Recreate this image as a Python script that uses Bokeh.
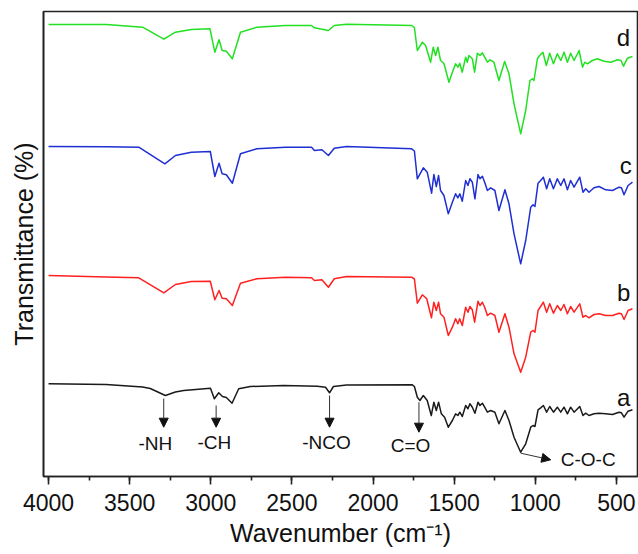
from bokeh.plotting import figure
from bokeh.models import Range1d, SingleIntervalTicker, FixedTicker, Arrow, NormalHead
from bokeh.core.properties import value
from bokeh.embed import file_html
from bokeh.resources import INLINE

# ---------------- data (wavenumber in cm-1, transmittance in arbitrary offset units) ----------------
wn_a = [4000, 3645, 3420, 3373, 3280, 3218, 3167, 3002, 2978, 2951, 2928, 2904, 2869, 2828, 2756, 2550,
        2344, 2293, 2268, 2244, 2163, 1758, 1745, 1727, 1711, 1690, 1666, 1641, 1625, 1610, 1596, 1579,
        1559, 1536, 1511, 1491, 1477, 1465, 1450, 1429, 1415, 1403, 1388, 1372, 1353, 1341, 1326, 1312,
        1295, 1275, 1249, 1224, 1187, 1162, 1131, 1090, 1059, 1028, 1014, 1002, 983, 967, 950, 930,
        911, 888, 864, 843, 823, 802, 782, 761, 726, 706, 689, 669, 638, 607, 566, 524, 484, 469,
        453, 428, 401]
t_a = [92.7, 92.0, 89.5, 88.0, 81.0, 84.5, 86.0, 88.3, 77.7, 83.7, 80.0, 79.0, 73.3, 87.7, 90.0, 91.0,
       90.3, 89.3, 83.7, 90.0, 91.5, 91.7, 90.0, 79.3, 76.0, 81.0, 76.0, 61.0, 74.3, 66.0, 74.3, 62.7,
       59.3, 49.3, 56.0, 62.7, 61.0, 64.3, 60.0, 71.0, 67.7, 72.7, 69.3, 63.3, 74.3, 71.0, 73.3, 69.3,
       64.3, 66.0, 64.3, 52.7, 66.0, 56.0, 39.3, 24.3, 32.7, 49.3, 51.0, 50.0, 66.7, 68.7, 71.0, 64.3,
       70.0, 64.3, 69.3, 64.3, 69.3, 62.7, 69.3, 64.3, 70.0, 61.0, 63.3, 61.0, 62.7, 63.3, 62.7, 62.0,
       64.3, 63.7, 59.3, 65.3, 66.7]

wn_b = [4000, 3645, 3444, 3289, 3218, 3120, 3003, 2975, 2949, 2930, 2904, 2867, 2817, 2716, 2540, 2379,
        2361, 2315, 2275, 2239, 2163, 1762, 1745, 1727, 1696, 1669, 1640, 1625, 1610, 1596, 1584, 1563,
        1536, 1511, 1491, 1477, 1466, 1450, 1429, 1415, 1403, 1388, 1374, 1353, 1341, 1326, 1312, 1295,
        1275, 1249, 1224, 1187, 1162, 1131, 1090, 1059, 1028, 1014, 1002, 983, 967, 950, 930, 911,
        888, 864, 843, 823, 802, 782, 761, 726, 706, 689, 669, 638, 607, 566, 524, 484, 469, 453,
        428, 401]
t_b = [201.0, 199.5, 198.7, 183.7, 192.0, 195.0, 195.3, 176.7, 186.0, 178.3, 177.7, 171.0, 193.3, 197.7,
       199.3, 198.7, 196.0, 196.7, 189.3, 197.7, 200.0, 199.3, 197.5, 173.3, 181.7, 177.7, 158.7, 174.3,
       166.0, 174.3, 162.7, 159.3, 141.0, 149.3, 157.7, 152.7, 157.7, 151.0, 169.3, 164.3, 170.0, 166.7,
       154.3, 175.3, 171.0, 174.3, 169.3, 161.0, 163.3, 161.0, 144.3, 162.7, 149.3, 122.7, 104.3, 119.3,
       144.3, 146.0, 144.3, 166.0, 170.0, 174.3, 164.3, 172.7, 163.3, 171.0, 166.0, 172.0, 162.7, 170.0,
       164.3, 172.7, 159.3, 161.0, 158.7, 162.0, 162.7, 161.0, 161.0, 163.3, 162.7, 157.0, 166.0, 167.7]

wn_c = [4000, 3645, 3444, 3283, 3218, 3120, 3003, 2975, 2949, 2930, 2904, 2867, 2817, 2716, 2540, 2379,
        2361, 2315, 2275, 2239, 2163, 1762, 1745, 1727, 1690, 1666, 1639, 1625, 1610, 1596, 1584, 1563,
        1536, 1511, 1491, 1477, 1465, 1450, 1429, 1415, 1403, 1388, 1372, 1353, 1341, 1326, 1312, 1295,
        1275, 1249, 1224, 1187, 1162, 1131, 1090, 1059, 1028, 1014, 1002, 983, 967, 950, 930, 911,
        888, 864, 843, 823, 802, 782, 761, 726, 706, 689, 669, 638, 607, 566, 524, 484, 469, 453,
        428, 401]
t_c = [330.0, 329.7, 329.3, 312.7, 321.0, 324.3, 325.0, 300.0, 313.3, 302.7, 301.7, 293.3, 322.7, 327.7,
       329.3, 329.3, 326.0, 326.7, 321.0, 328.3, 330.0, 327.7, 325.5, 297.7, 308.7, 304.3, 283.3, 302.0,
       290.0, 301.0, 286.0, 281.0, 262.7, 274.3, 282.7, 278.7, 282.7, 275.3, 296.0, 291.0, 297.7, 294.3,
       277.7, 302.0, 297.7, 300.3, 294.3, 286.0, 288.7, 286.0, 266.0, 286.7, 272.7, 242.7, 212.7, 236.0,
       269.3, 271.7, 270.0, 293.3, 296.0, 299.3, 287.7, 297.7, 287.7, 297.7, 291.0, 297.7, 286.7, 296.0,
       289.3, 299.3, 284.3, 287.7, 284.3, 288.7, 290.0, 286.7, 286.0, 289.3, 288.7, 281.7, 291.0, 294.3]

wn_d = [4000, 3645, 3420, 3289, 3218, 3120, 3005, 2975, 2949, 2930, 2904, 2867, 2817, 2716, 2540, 2379,
        2361, 2275, 2239, 2163, 1762, 1745, 1727, 1696, 1676, 1645, 1629, 1614, 1600, 1584, 1563, 1532,
        1511, 1491, 1477, 1466, 1450, 1429, 1419, 1409, 1388, 1374, 1357, 1341, 1326, 1312, 1295, 1279,
        1255, 1224, 1189, 1162, 1131, 1090, 1059, 1033, 1018, 1008, 987, 973, 953, 932, 911, 888,
        864, 843, 823, 802, 782, 761, 730, 709, 695, 679, 648, 617, 576, 535, 493, 472, 456, 432, 401]
t_d = [452.0, 452.0, 449.3, 437.3, 444.3, 447.0, 447.7, 424.3, 436.7, 426.0, 425.3, 417.7, 444.3, 449.3,
       451.0, 451.0, 448.7, 446.0, 451.0, 452.3, 451.0, 449.0, 426.0, 434.3, 431.0, 414.3, 429.3, 421.0,
       429.3, 416.0, 413.0, 394.3, 404.3, 412.7, 409.3, 413.3, 404.3, 419.3, 414.3, 421.0, 417.7, 404.3,
       423.3, 421.0, 423.7, 419.3, 414.3, 416.7, 414.3, 396.0, 415.0, 402.7, 372.7, 342.7, 366.0, 396.0,
       397.7, 396.0, 417.7, 421.0, 424.3, 411.0, 423.3, 412.7, 422.7, 416.0, 424.3, 414.3, 423.3, 416.0,
       426.0, 409.3, 414.3, 412.7, 416.0, 417.7, 415.3, 414.3, 416.7, 416.0, 410.3, 418.3, 420.0]

series_names = ["a", "b", "c", "d"]
series_colors = ["#1a1a1a", "#ff2020", "#1f2fd2", "#22e022"]

# band assignments: (label, wavenumber of band)
band_labels = ["-NH", "-CH", "-NCO", "C=O"]
band_wn = [3290, 2967, 2268, 1717]

x_title = "Wavenumber (cm\u207b\u00b9)"
y_title = "Transmittance (%)"

FONT = "Liberation Sans"

p = figure(width=638, height=554, x_range=Range1d(4031, 370), y_range=Range1d(0, 465),
           output_backend="svg", toolbar_location=None,
           min_border_left=43, min_border_right=1, min_border_top=11, min_border_bottom=78)

p.xgrid.visible = False
p.ygrid.visible = False
p.background_fill_color = "white"
p.border_fill_color = "white"
p.outline_line_color = "#222222"
p.outline_line_width = 1.6
p.outline_line_alpha = 1.0

# x axis
p.xaxis.ticker = SingleIntervalTicker(interval=500, num_minor_ticks=2)
p.xaxis.axis_label = x_title
p.xaxis.axis_label_text_font = FONT
p.xaxis.axis_label_text_font_size = "25px"
p.xaxis.axis_label_text_font_style = "normal"
p.xaxis.axis_label_text_color = "#111111"
p.xaxis.axis_label_standoff = 5
p.xaxis.major_label_text_font = FONT
p.xaxis.major_label_text_font_size = "23px"
p.xaxis.major_label_text_color = "#111111"
p.xaxis.major_label_standoff = 9
p.xaxis.axis_line_color = "#222222"
p.xaxis.axis_line_width = 1.6
p.xaxis.major_tick_line_color = "#222222"
p.xaxis.major_tick_line_width = 1.6
p.xaxis.major_tick_in = 0
p.xaxis.major_tick_out = 8
p.xaxis.minor_tick_line_color = "#222222"
p.xaxis.minor_tick_line_width = 1.6
p.xaxis.minor_tick_in = 0
p.xaxis.minor_tick_out = 4

# y axis: label only
p.yaxis.ticker = FixedTicker(ticks=[])
p.yaxis.axis_label = y_title
p.yaxis.axis_label_text_font = FONT
p.yaxis.axis_label_text_font_size = "25px"
p.yaxis.axis_label_text_font_style = "normal"
p.yaxis.axis_label_text_color = "#111111"
p.yaxis.axis_label_standoff = 6
p.yaxis.major_label_standoff = 0
p.yaxis.major_tick_out = 0
p.yaxis.major_tick_in = 0
p.yaxis.minor_tick_out = 0
p.yaxis.minor_tick_in = 0
p.yaxis.axis_line_color = "#222222"
p.yaxis.axis_line_width = 1.6

# spectra
all_wn = [wn_a, wn_b, wn_c, wn_d]
all_t = [t_a, t_b, t_c, t_d]
for xs, ys, col in zip(all_wn, all_t, series_colors):
    p.line(xs, ys, line_color=col, line_width=1.5, line_join="round")

# series labels at the right end
lab_x = [455, 455, 442, 457]
lab_y = [79.3, 184.3, 311.0, 439.3]
p.text(x=lab_x, y=lab_y, text=series_names, text_font=value(FONT), text_font_size="24px",
       text_align="center", text_baseline="middle", text_color="#111111")

# band annotations on curve a
arrow_top = [78, 71, 81, 74.3]
arrow_tip = [49.3, 49.3, 49.3, 44.3]
text_x = [3342, 2978, 2287, 1769]
text_y = [33.5, 34.0, 34.0, 31.0]
for bx, y0, y1 in zip(band_wn, arrow_top, arrow_tip):
    p.add_layout(Arrow(end=NormalHead(size=9, fill_color="#111111", line_color="#111111", line_width=1),
                       x_start=bx, y_start=y0, x_end=bx, y_end=y1,
                       line_color="#333333", line_width=1))
p.text(x=text_x, y=text_y, text=band_labels, text_font=value(FONT), text_font_size="19px",
       text_align="center", text_baseline="middle", text_color="#111111")

# C-O-C band
p.add_layout(Arrow(end=NormalHead(size=9, fill_color="#111111", line_color="#111111", line_width=1),
                   x_start=1090, y_start=23.3, x_end=905, y_end=16.7,
                   line_color="#333333", line_width=1))
p.text(x=[843], y=[16.7], text=["C-O-C"], text_font=value(FONT), text_font_size="19px",
       text_align="left", text_baseline="middle", text_color="#111111")

open("out.html", "w").write(file_html(p, INLINE))
